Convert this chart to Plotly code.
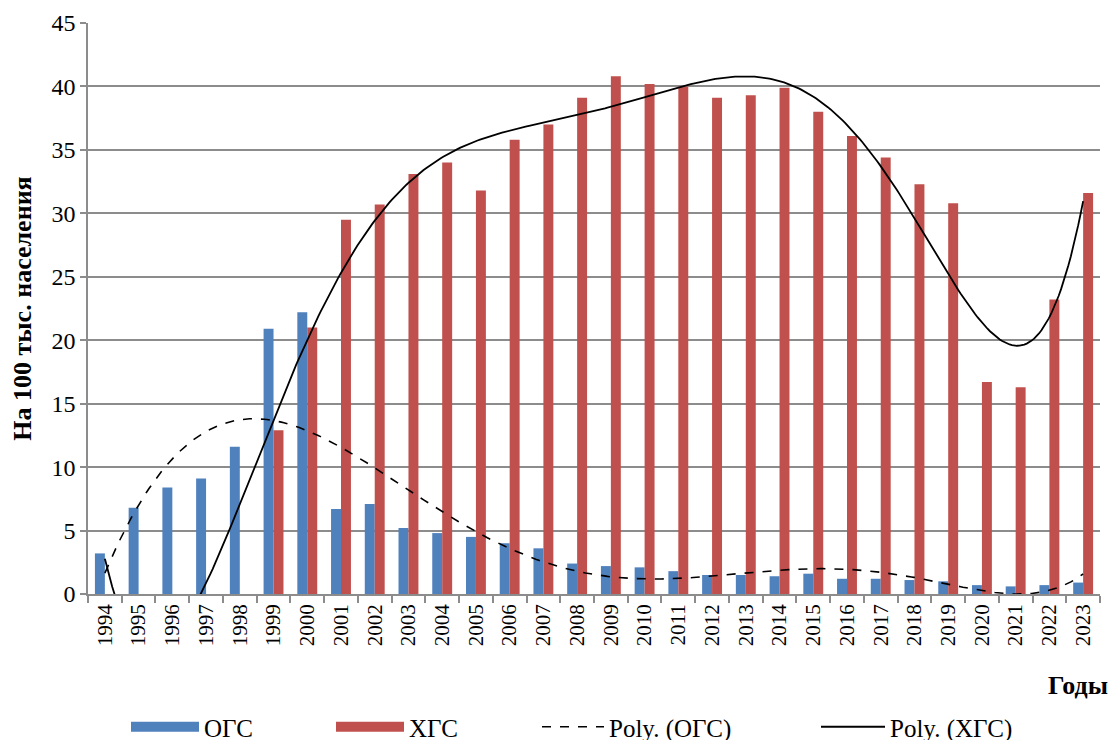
import numpy as np
import plotly.graph_objects as go

years = [str(y) for y in range(1994, 2024)]
ogs = [3.2, 6.8, 8.4, 9.1, 11.6, 20.9, 22.2, 6.7, 7.1, 5.2, 4.8, 4.5, 4.0, 3.6, 2.4,
       2.2, 2.1, 1.8, 1.5, 1.5, 1.4, 1.6, 1.2, 1.2, 1.1, 1.0, 0.7, 0.6, 0.7, 0.9]
hgs = [0, 0, 0, 0, 0, 12.9, 21.0, 29.5, 30.7, 33.1, 34.0, 31.8, 35.8, 37.0, 39.1,
       40.8, 40.2, 40.0, 39.1, 39.3, 39.9, 38.0, 36.1, 34.4, 32.3, 30.8, 16.7, 16.3, 23.2, 31.6]

BLUE = "#4F81BD"
RED = "#C0504D"
GRID = "#8C8C8C"
FONT = "Times New Roman, Liberation Serif, serif"
W, H = 1112, 740
ML, MR, MT, MB = 88, 12, 23, 146
PW, PH = W - ML - MR, H - MT - MB

pos = np.arange(len(years))
# Excel-style polynomial trendlines (order 6) fitted on category index 1..N
xi = pos + 1
c_ogs = np.polyfit(xi, ogs, 6)
c_hgs = np.polyfit(xi, hgs, 6)
xs = np.linspace(1, len(years), 400)

fig = go.Figure()
fig.add_trace(go.Bar(x=pos, y=ogs, name="ОГС", showlegend=False,
                     marker=dict(color=BLUE, line=dict(width=0))))
fig.add_trace(go.Bar(x=pos, y=hgs, name="ХГС", showlegend=False,
                     marker=dict(color=RED, line=dict(width=0))))
fig.add_trace(go.Scatter(x=xs - 1, y=np.polyval(c_ogs, xs), mode="lines", name="Poly. (ОГС)",
                         legend="legend3",
                         line=dict(color="black", width=1.6, dash="dash")))
fig.add_trace(go.Scatter(x=xs - 1, y=np.polyval(c_hgs, xs), mode="lines", name="Poly. (ХГС)",
                         legend="legend4",
                         line=dict(color="black", width=1.8)))
# legend keys for the bar series (wide rectangles as in the original)
fig.add_trace(go.Scatter(x=[None], y=[None], mode="lines", name="ОГС", legend="legend",
                         line=dict(color=BLUE, width=14)))
fig.add_trace(go.Scatter(x=[None], y=[None], mode="lines", name="ХГС", legend="legend2",
                         line=dict(color=RED, width=14)))


def leg(x_px, iw):
    return dict(xref="container", yref="container", x=x_px / W, xanchor="left",
                y=1 - 727 / H, yanchor="middle", orientation="h",
                font=dict(family=FONT, size=25, color="black"),
                bgcolor="rgba(0,0,0,0)", borderwidth=0, itemwidth=iw)


fig.update_layout(
    width=W, height=H,
    margin=dict(l=ML, r=MR, t=MT, b=MB, autoexpand=False),
    plot_bgcolor="white", paper_bgcolor="white",
    barmode="group", bargap=0.41, bargroupgap=0,
    font=dict(family=FONT, size=20, color="black"),
    showlegend=True,
    legend=leg(126, 68),
    legend2=leg(331, 68),
    legend3=leg(537, 62),
    legend4=leg(816, 64),
    xaxis=dict(
        range=[-0.5, len(years) - 0.5], automargin=False,
        tickmode="array", tickvals=pos, ticktext=years, tickangle=-90,
        ticks="", showgrid=False, zeroline=False,
        showline=True, linecolor=GRID, linewidth=1.5,
        tickfont=dict(family=FONT, size=21, color="black"),
        minor=dict(ticks="outside", tick0=-0.5, dtick=1, ticklen=7,
                   tickcolor=GRID, tickwidth=1.5, showgrid=False),
    ),
    yaxis=dict(
        range=[0, 45], dtick=5, tick0=0, automargin=False,
        showgrid=True, gridcolor=GRID, gridwidth=1.5,
        zeroline=False, showline=True, linecolor=GRID, linewidth=1.5,
        ticks="outside", ticklen=6, tickcolor=GRID, tickwidth=1.5,
        tickfont=dict(family=FONT, size=24, color="black"),
        title=dict(text="<b>На 100 тыс. населения</b>",
                   font=dict(family=FONT, size=26, color="black"), standoff=12),
    ),
    annotations=[
        dict(text="<b>Годы</b>", xref="paper", yref="paper",
             x=(1110 - ML) / PW, y=(H - MB - 685) / PH,
             xanchor="right", yanchor="middle", showarrow=False,
             font=dict(family=FONT, size=26, color="black")),
    ],
)

fig.write_html("out.html", config={"displayModeBar": False},
               post_script="document.body.style.margin='0';document.body.style.overflow='hidden';")
